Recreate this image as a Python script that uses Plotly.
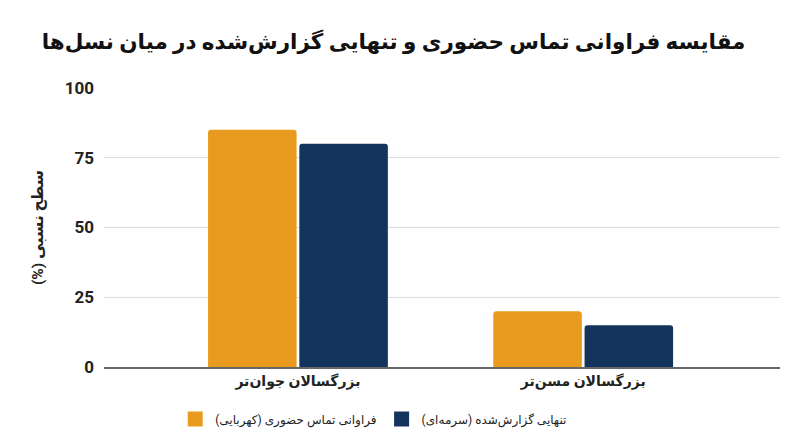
import plotly.graph_objects as go

categories = ["بزرگسالان جوان‌تر", "بزرگسالان مسن‌تر"]
contact_freq = [85, 20]
loneliness = [80, 15]
series_names = ["فراوانی تماس حضوری (کهربایی)", "تنهایی گزارش‌شده (سرمه‌ای)"]
y_ticks = [0, 25, 50, 75, 100]

FONT = "Roboto, DejaVu Sans, sans-serif"
AMBER = "#E89B1F"
NAVY = "#15345D"
colors = [AMBER, NAVY]

fig = go.Figure()
for name, vals, col in zip(series_names, [contact_freq, loneliness], colors):
    fig.add_trace(go.Bar(x=categories, y=vals, name=name, showlegend=False,
                         marker=dict(color=col, line=dict(width=0))))
# square legend swatches
for name, col in zip(series_names, colors):
    fig.add_trace(go.Scatter(x=[None], y=[None], mode="markers", name=name,
                             marker=dict(symbol="square", size=15, color=col)))

# page body has an 8px margin, so margins are shifted to compensate
fig.update_layout(
    width=800, height=447,
    margin=dict(l=96, r=28, t=80, b=88),
    paper_bgcolor="white", plot_bgcolor="white",
    barmode="group", bargap=0.36, bargroupgap=0.03, barcornerradius=3,
    font=dict(family=FONT, color="#222"),
    title=dict(text="مقایسه فراوانی تماس حضوری و تنهایی گزارش‌شده در میان نسل‌ها",
               x=0.482, xanchor="center", y=0.924, yanchor="middle",
               font=dict(size=21.5, color="#111", family=FONT, weight="bold")),
    legend=dict(orientation="h", x=0.399, xanchor="center", y=-0.186, yanchor="middle",
                font=dict(size=12, color="#222", family=FONT),
                itemwidth=30, traceorder="normal"),
    showlegend=True,
)
fig.update_xaxes(range=[-0.68, 1.69], showgrid=False, showline=True,
                 linecolor="#666", linewidth=1.5, ticks="",
                 tickfont=dict(size=14, color="#222", family=FONT, weight="bold"))
fig.update_yaxes(range=[0, 100], tickvals=y_ticks, showgrid=True,
                 gridcolor="#dcdcdc", gridwidth=1, zeroline=False,
                 tickfont=dict(size=17, color="#222", family=FONT, weight="bold"),
                 ticklabelstandoff=9,
                 title=dict(text="سطح نسبی (%)\u200f", standoff=17,
                            font=dict(size=15.5, color="#222", family=FONT, weight="bold")))

fig.write_html("out.html")
